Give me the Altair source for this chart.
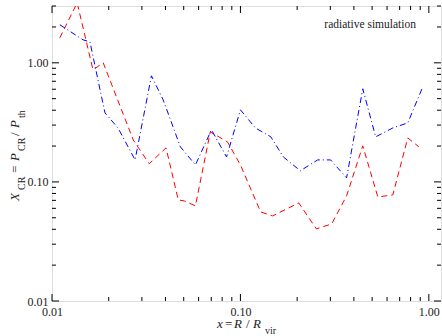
import altair as alt
import pandas as pd

# ---- data ----
blue_x = [0.0110, 0.0146, 0.0159, 0.0191, 0.0224, 0.0276, 0.0337, 0.0389, 0.0480,
          0.0577, 0.0702, 0.0844, 0.100, 0.120, 0.145, 0.169, 0.208, 0.257, 0.301,
          0.366, 0.446, 0.522, 0.644, 0.773, 0.929]
blue_y = [2.09, 1.56, 1.50, 0.380, 0.284, 0.153, 0.778, 0.489, 0.197,
          0.139, 0.274, 0.162, 0.403, 0.284, 0.239, 0.162, 0.124, 0.153, 0.153,
          0.108, 0.605, 0.239, 0.284, 0.313, 0.629]

red_x = [0.0110, 0.0136, 0.0165, 0.0187, 0.0270, 0.0328, 0.0403, 0.0468, 0.0504,
         0.0577, 0.0692, 0.0853, 0.100, 0.128, 0.148, 0.204, 0.253, 0.305, 0.366,
         0.446, 0.536, 0.644, 0.773, 0.885]
red_y = [1.62, 3.19, 0.874, 1.00, 0.225, 0.142, 0.193, 0.0706, 0.0692,
         0.0629, 0.263, 0.217, 0.139, 0.056, 0.0518, 0.0666, 0.0403, 0.0444, 0.0763,
         0.201, 0.0748, 0.0778, 0.234, 0.197]

x_major = [0.01, 0.1, 1.0]
x_minor = [0.02, 0.03, 0.04, 0.05, 0.06, 0.07, 0.08, 0.09,
           0.2, 0.3, 0.4, 0.5, 0.6, 0.7, 0.8, 0.9]
y_major = [0.01, 0.1, 1.0]
y_minor = [0.02, 0.03, 0.04, 0.05, 0.06, 0.07, 0.08, 0.09,
           0.2, 0.3, 0.4, 0.5, 0.6, 0.7, 0.8, 0.9, 2.0, 3.0]

W, H = 389, 295
OX, OY = 52, 6
SERIF = "Liberation Serif, Times New Roman, serif"
TXT = "#222222"

xs = alt.Scale(type="log", domain=[0.01, 1.16], nice=False)
ys = alt.Scale(type="log", domain=[0.01, 3.0], nice=False)
xax = alt.Axis(values=x_major, format=".2f", ticks=False, domain=False, grid=False,
               labelFlush=False, labelFont=SERIF, labelFontSize=12, labelColor=TXT,
               labelPadding=5, title=None)
yax = alt.Axis(values=y_major, format=".2f", ticks=False, domain=False, grid=False,
               labelFlush=False, labelFont=SERIF, labelFontSize=12, labelColor=TXT,
               labelPadding=4, title=None)


def X():
    return alt.X("x:Q", scale=xs, axis=xax)


def Y():
    return alt.Y("y:Q", scale=ys, axis=yax)


red = alt.Chart(pd.DataFrame({"x": red_x, "y": red_y})).mark_line(
    color="#ff0000", strokeDash=[6, 4], strokeWidth=1, clip=True
).encode(x=X(), y=Y())

blue = alt.Chart(pd.DataFrame({"x": blue_x, "y": blue_y})).mark_line(
    color="#0000ff", strokeDash=[6, 3, 1, 3], strokeWidth=1, clip=True
).encode(x=X(), y=Y())


def xticks(vals, length, top):
    y0, y1 = (0, length) if top else (H, H - length)
    return alt.Chart(pd.DataFrame({"x": vals})).mark_rule(
        color="black", strokeWidth=1
    ).encode(x=X(), y=alt.value(y0), y2=alt.value(y1))


def yticks(vals, length, right):
    x0, x1 = (W, W - length) if right else (0, length)
    return alt.Chart(pd.DataFrame({"y": vals})).mark_rule(
        color="black", strokeWidth=1
    ).encode(y=Y(), x=alt.value(x0), x2=alt.value(x1))


def piece(text, sx, sy, size=13, italic=False, angle=0, align="left"):
    kw = dict(align=align, baseline="alphabetic", font=SERIF, fontSize=size,
              color=TXT)
    if italic:
        kw["fontStyle"] = "italic"
    if angle:
        kw["angle"] = angle
    return alt.Chart(pd.DataFrame({"t": [text]})).mark_text(**kw).encode(
        text="t:N", x=alt.value(sx - OX), y=alt.value(sy - OY))


ticks = [
    xticks(x_major, 7, False), xticks(x_minor, 4, False),
    xticks(x_major, 7, True), xticks(x_minor, 4, True),
    yticks(y_major, 7, False), yticks(y_minor, 4, False),
    yticks(y_major, 7, True), yticks(y_minor, 4, True),
]

texts = [
    piece("radiative simulation", 416, 28, size=11.5, align="right"),
    # x-axis title: x = R / R_vir
    piece("x", 217, 328, italic=True),
    piece("=", 225, 328),
    piece("R", 234, 328, italic=True),
    piece("/", 246, 328),
    piece("R", 253, 328, italic=True),
    piece("vir", 265, 334, size=10),
    # y-axis title: X_CR = P_CR / P_th (rotated)
    piece("X", 19, 201, italic=True, angle=270),
    piece("CR", 25, 190, size=10, angle=270),
    piece("=", 19, 173, angle=270),
    piece("P", 19, 161, italic=True, angle=270),
    piece("CR", 25, 151, size=10, angle=270),
    piece("/", 19, 136, angle=270),
    piece("P", 19, 128, italic=True, angle=270),
    piece("th", 25, 118, size=10, angle=270),
]

chart = alt.layer(red, blue, *ticks, *texts).properties(
    width=W, height=H,
    autosize=alt.AutoSizeParams(type="none"),
    padding={"left": OX, "top": OY, "right": 442 - OX - W, "bottom": 336 - OY - H},
).configure_view(stroke="black", strokeWidth=1).configure(background="white")

chart.save("out.html", embed_options={"renderer": "svg", "actions": False})
